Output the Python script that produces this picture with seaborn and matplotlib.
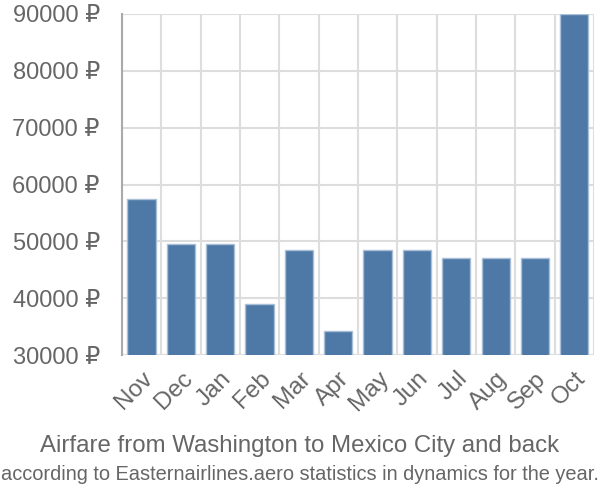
import matplotlib
matplotlib.use("Agg")
import matplotlib.pyplot as plt
import seaborn as sns
import numpy as np
import pandas as pd
from matplotlib.ticker import FuncFormatter, FixedLocator

months = ["Nov", "Dec", "Jan", "Feb", "Mar", "Apr", "May", "Jun", "Jul", "Aug", "Sep", "Oct"]
prices = [57500, 49600, 49600, 38950, 48400, 34250, 48400, 48400, 47000, 47000, 47000, 90000]
y_ticks = [30000, 40000, 50000, 60000, 70000, 80000, 90000]

title = "Airfare from Washington to Mexico City and back"
subtitle = "according to Easternairlines.aero statistics in dynamics for the year."

sns.set_style("white")
plt.rcParams['font.family'] = ['Liberation Sans', 'DejaVu Sans']

grid_color = "#dddddd"
text_color = "#666666"

df = pd.DataFrame({"month": months, "price": prices})

fig = plt.figure(figsize=(6, 5), dpi=100)
ax = fig.add_axes([0.2033, 0.29, 0.7867, 0.682])

sns.barplot(data=df, x="month", y="price", color="#4e79a7", saturation=1,
            width=0.72, edgecolor="#a9bfd6", linewidth=1, ax=ax, zorder=3)

ax.set_ylim(30000, 90000)
ax.set_xlim(-0.5, len(months) - 0.5)
ax.yaxis.set_major_locator(FixedLocator(y_ticks))
ax.yaxis.set_major_formatter(FuncFormatter(lambda v, p: "%d \u20bd" % v))

# vertical grid at category boundaries (minor ticks)
ax.xaxis.set_minor_locator(FixedLocator(np.arange(-0.5, len(months), 1.0)))
ax.grid(True, which="minor", axis="x", color=grid_color, linewidth=1.5, zorder=0)
ax.grid(True, which="major", axis="y", color=grid_color, linewidth=1.5, zorder=0)
ax.set_axisbelow(True)

ax.tick_params(axis="x", which="minor", length=14, width=1.5, color=grid_color)
ax.tick_params(axis="x", which="major", length=0, labelsize=17.5, labelcolor=text_color, pad=9)
ax.tick_params(axis="y", which="major", length=14, width=1.5, color=grid_color,
               labelsize=17, labelcolor=text_color, pad=2)
for lab in ax.get_xticklabels():
    lab.set_rotation(45)
    lab.set_ha("right")
    lab.set_rotation_mode("anchor")

for s in ["top", "right", "bottom"]:
    ax.spines[s].set_visible(False)
ax.spines["left"].set_color("#aaaaaa")
ax.spines["left"].set_linewidth(1.5)
ax.spines["left"].set_zorder(4)

ax.set_xlabel("")
ax.set_ylabel("")

fig.text(0.5, 0.108, title, ha="center", va="center", fontsize=17.3, color=text_color)
fig.text(0.5, 0.052, subtitle, ha="center", va="center", fontsize=14.4, color=text_color)

fig.savefig("out.png", dpi=100)
